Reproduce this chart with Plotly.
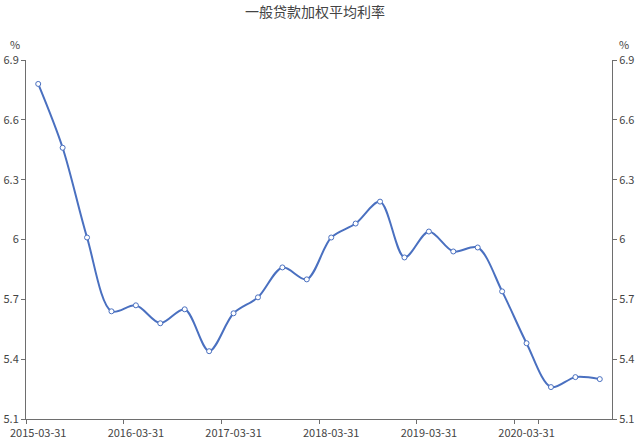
import plotly.graph_objects as go

dates = ["2015-03-31", "2015-06-30", "2015-09-30", "2015-12-31",
         "2016-03-31", "2016-06-30", "2016-09-30", "2016-12-31",
         "2017-03-31", "2017-06-30", "2017-09-30", "2017-12-31",
         "2018-03-31", "2018-06-30", "2018-09-30", "2018-12-31",
         "2019-03-31", "2019-06-30", "2019-09-30", "2019-12-31",
         "2020-03-31", "2020-06-30", "2020-09-30", "2020-12-31"]
rates = [6.78, 6.46, 6.01, 5.64,
         5.67, 5.58, 5.65, 5.44,
         5.63, 5.71, 5.86, 5.80,
         6.01, 6.08, 6.19, 5.91,
         6.04, 5.94, 5.96, 5.74,
         5.48, 5.26, 5.31, 5.30]
x_ticks = ["2015-03-31", "2016-03-31", "2017-03-31", "2018-03-31", "2019-03-31", "2020-03-31"]
y_ticks = [5.1, 5.4, 5.7, 6.0, 6.3, 6.6, 6.9]
y_tick_text = ["5.1", "5.4", "5.7", "6", "6.3", "6.6", "6.9"]
title = "一般贷款加权平均利率"
unit = "%"

font_family = "Noto Sans CJK SC"
line_color = "#4a70c0"
axis_color = "#6e6e6e"
text_color = "#444444"

fig = go.Figure()
fig.add_trace(go.Scatter(
    x=dates, y=rates, mode="lines+markers",
    line=dict(color=line_color, width=2, shape="spline", smoothing=0.9),
    marker=dict(symbol="circle", size=5, color="white",
                line=dict(color=line_color, width=1)),
    showlegend=False, yaxis="y",
))
fig.add_trace(go.Scatter(
    x=dates, y=rates, mode="lines",
    line=dict(color="rgba(0,0,0,0)", width=0),
    showlegend=False, hoverinfo="skip", yaxis="y2",
))

yaxis_common = dict(
    range=[5.1, 6.9], tickmode="array", tickvals=y_ticks, ticktext=y_tick_text,
    showgrid=False, zeroline=False, showline=True, linecolor=axis_color, linewidth=1,
    ticks="outside", ticklen=4, tickcolor=axis_color, automargin=False,
    tickfont=dict(family=font_family, size=11, color=text_color),
)

fig.update_layout(
    width=643, height=440,
    margin=dict(l=26, r=31, t=60, b=21),
    paper_bgcolor="white", plot_bgcolor="white",
    title=dict(text=title, x=0.49, xanchor="center", yref="container",
               y=1 - 12 / 440, yanchor="middle",
               font=dict(family=font_family, size=14, color=text_color)),
    xaxis=dict(
        type="category", range=[-0.5, len(dates) - 0.5],
        tickmode="array", tickvals=x_ticks, ticktext=x_ticks, tickangle=0,
        tickson="boundaries", ticks="outside", ticklen=4, tickcolor=axis_color,
        ticklabelstandoff=4,
        showgrid=False, zeroline=False, showline=True, linecolor=axis_color, linewidth=1,
        automargin=False,
        tickfont=dict(family=font_family, size=11, color=text_color),
    ),
    yaxis=dict(side="left", **yaxis_common),
    yaxis2=dict(side="right", overlaying="y", **yaxis_common),
    annotations=[
        dict(text=unit, xref="paper", yref="paper", x=0, y=1, xshift=-18, yshift=16,
             showarrow=False, xanchor="left", yanchor="middle",
             font=dict(family=font_family, size=11, color=text_color)),
        dict(text=unit, xref="paper", yref="paper", x=1, y=1, xshift=5, yshift=16,
             showarrow=False, xanchor="left", yanchor="middle",
             font=dict(family=font_family, size=11, color=text_color)),
    ],
)

fig.write_html("out.html", config={"displayModeBar": False},
               post_script="document.body.style.margin='0';")
